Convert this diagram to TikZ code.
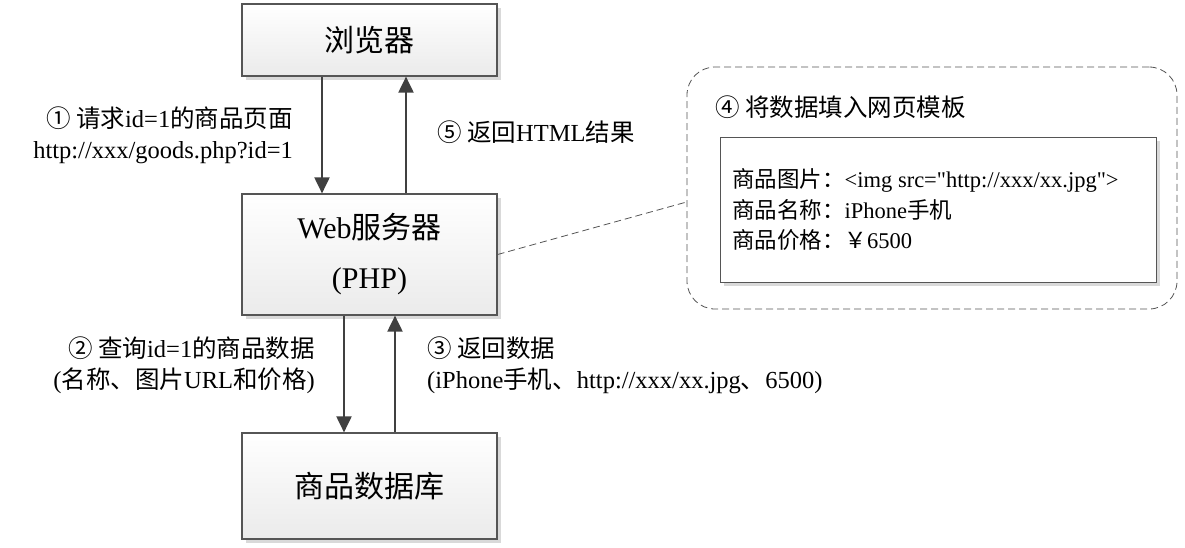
\documentclass[tikz,border=0pt]{standalone}
\usepackage{fontspec}
\setmainfont{Liberation Serif}[Ligatures=TeXOff]
\newfontfamily\cjk{Noto Sans CJK SC}
\newcommand\zhc[1]{{\cjk #1}}
\usetikzlibrary{arrows.meta,shadows}
\definecolor{edge}{HTML}{555555}
\definecolor{arrowc}{HTML}{404040}
\begin{document}
\begin{tikzpicture}[x=1pt,y=-1pt,
  box/.style={draw=edge, line width=1.2pt, top color=white, bottom color=black!8,
    drop shadow={shadow xshift=4pt, shadow yshift=-4pt, fill=black!15, opacity=1},
    inner sep=0pt, minimum width=255pt, font=\fontsize{30}{36}\selectfont, align=center},
  lbl/.style={inner sep=0pt, font=\fontsize{24.5}{31}\selectfont},
  arr/.style={draw=arrowc, line width=2pt, -{Triangle[length=16pt,width=15pt]}},
  dashline/.style={draw=edge, line width=0.8pt, dash pattern=on 7pt off 4pt}]
\useasboundingbox (0,0) rectangle (1185,547);
% main boxes
\node[box, minimum height=72pt] (browser) at (369.5,40) {\zhc{浏览器}};
\node[box, minimum height=121pt] (web) at (369.5,254.5) {Web\zhc{服务器}\\[14pt](PHP)};
\node[box, minimum height=106pt] (db) at (369.5,486) {\zhc{商品数据库}};
% template group
\node[dashline, rounded corners=28pt, minimum width=490pt, minimum height=242pt, inner sep=0pt] (tpl) at (932,188) {};
\node[draw=edge, line width=1pt, fill=white,
  drop shadow={shadow xshift=4pt, shadow yshift=-4pt, fill=black!15, opacity=1},
  minimum width=436pt, minimum height=145pt, inner sep=0pt] (inner) at (938,209.5) {};
\node[lbl, anchor=west] (l4) at (715,107) {\zhc{④ 将数据填入网页模板}};
\node[inner sep=0pt, anchor=west, align=left, font=\fontsize{22.5}{30.5}\selectfont] (itext) at (732,209.5)
  {\zhc{商品图片：}<img src="http://xxx/xx.jpg">\\\zhc{商品名称：}iPhone\zhc{手机}\\\zhc{商品价格：￥}6500};
% x positions of arrows
\coordinate (xa) at (322,0);
\coordinate (xb) at (406,0);
\coordinate (xc) at (344,0);
\coordinate (xd) at (395,0);
\draw[arr] (xa |- browser.south) -- (xa |- web.north);
\draw[arr] (xb |- web.north) -- (xb |- browser.south);
\draw[arr] (xc |- web.south) -- (xc |- db.north);
\draw[arr] (xd |- db.north) -- (xd |- web.south);
% dashed connector
\draw[dashline] (web.east) -- ([yshift=-14pt]tpl.west);
% labels
\node[lbl, anchor=east, align=right] (l1) at (293,135.5)
  {\zhc{① 请求}id=1\zhc{的商品页面}\\http://xxx/goods.php?id=1};
\node[lbl, anchor=west] (l5) at (437,132) {\zhc{⑤ 返回}HTML\zhc{结果}};
\node[lbl, anchor=east, align=right] (l2) at (315,365)
  {\zhc{② 查询}id=1\zhc{的商品数据}\\(\zhc{名称、图片}URL\zhc{和价格})};
\node[lbl, anchor=west, align=left] (l3) at (427,365)
  {\zhc{③ 返回数据}\\(iPhone\zhc{手机、}http://xxx/xx.jpg\zhc{、}6500)};
\end{tikzpicture}
\end{document}
